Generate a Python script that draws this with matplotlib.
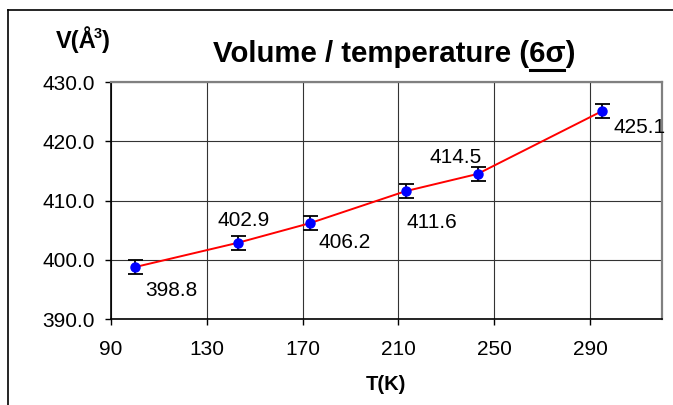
import numpy as np
import matplotlib
matplotlib.use('Agg')
import matplotlib.pyplot as plt
from matplotlib.lines import Line2D

plt.rcParams['font.family'] = ['Liberation Sans', 'DejaVu Sans']

# dados
temperaturas = [100, 143, 173, 213, 243, 295]
volumes = [398.8, 402.9, 406.2, 411.6, 414.5, 425.1]
erros = [1.2, 1.2, 1.2, 1.2, 1.2, 1.2]
rotulos = ['398.8', '402.9', '406.2', '411.6', '414.5', '425.1']
xticks = [90, 130, 170, 210, 250, 290]
yticks = [390.0, 400.0, 410.0, 420.0, 430.0]

# deslocamento dos rotulos (pixels), lado do ponto
offsets = [(10, -23, 'left'), (6, 22, 'center'), (9, -19, 'left'),
           (1, -31, 'left'), (-22, 16, 'center'), (11, -16, 'left')]

fig = plt.figure(figsize=(6.73, 4.05), dpi=100)
ax = fig.add_axes([111 / 673, 1 - 319.3 / 405, (662 - 111) / 673, (319.3 - 82) / 405])

ax.plot(temperaturas, volumes, color='red', lw=1.4, zorder=3)
ax.errorbar(temperaturas, volumes, yerr=erros, fmt='none', ecolor='black',
            elinewidth=1.3, capsize=5.4, capthick=1.3, zorder=4)
ax.plot(temperaturas, volumes, 'o', color='blue', markersize=6.5, zorder=5)

for x, y, txt, (dx, dy, ha) in zip(temperaturas, volumes, rotulos, offsets):
    ax.annotate(txt, (x, y), xytext=(dx * 0.72, dy * 0.72), textcoords='offset points',
                ha=ha, va='center', fontsize=15)

ax.set_xlim(90, 320)
ax.set_ylim(390, 430)
ax.set_xticks(xticks)
ax.set_yticks(yticks)
ax.set_yticklabels(['%.1f' % v for v in yticks])
ax.tick_params(labelsize=15, direction='out', length=4, width=1, color='black')
ax.tick_params(axis='x', pad=11)
ax.tick_params(axis='y', pad=7.5)
ax.grid(True, color='#333333', lw=0.8)
ax.set_axisbelow(True)

for lado in ['top', 'right']:
    ax.spines[lado].set_color('#808080')
    ax.spines[lado].set_linewidth(1.6)
for lado in ['left', 'bottom']:
    ax.spines[lado].set_color('black')
    ax.spines[lado].set_linewidth(1.2)

r = fig.canvas.get_renderer()

def largura(txt, fs):
    t = fig.text(0, 0, txt, fontsize=fs, weight='bold')
    w = t.get_window_extent(r).width
    t.remove()
    return w

# titulo com "6σ" sublinhado
titulo_pre = 'Volume / temperature ('
titulo_sig = '6σ'
titulo_pos = ')'
fs_titulo = 21.2
w_total = largura(titulo_pre + titulo_sig + titulo_pos, fs_titulo)
w_pre = largura(titulo_pre, fs_titulo)
w_sig = largura(titulo_pre + titulo_sig, fs_titulo)
x_ini = 394 - w_total / 2
fig.text(x_ini / 673, 1 - 62 / 405, titulo_pre + titulo_sig + titulo_pos,
         fontsize=fs_titulo, weight='bold')
fig.add_artist(Line2D([(x_ini + w_pre + 1) / 673, (x_ini + w_sig - 1) / 673],
                      [1 - 70 / 405, 1 - 70 / 405], color='black', lw=2.2))

# rotulo do eixo y: V(Å³) com expoente montado a mao
fs_y = 17
w_a = largura('V(Å', fs_y) - 3
w_3 = largura('3', fs_y * 0.62)
w_p = largura(')', fs_y)
x0 = 83 - (w_a + w_3 + w_p) / 2
yb_lab = 1 - 48 / 405
fig.text(x0 / 673, yb_lab, 'V(Å', fontsize=fs_y, weight='bold', va='baseline')
fig.text((x0 + w_a) / 673, yb_lab + 10 / 405, '3', fontsize=fs_y * 0.62, weight='bold', va='baseline')
fig.text((x0 + w_a + w_3) / 673, yb_lab, ')', fontsize=fs_y, weight='bold', va='baseline')

fig.text(386 / 673, 1 - 385 / 405, 'T(K)', fontsize=14.5, weight='bold', ha='center', va='center')

# moldura da area do grafico
yb = 1 - 9.5 / 405
fig.add_artist(Line2D([8 / 673, 1], [yb, yb], color='black', lw=1.2))
fig.add_artist(Line2D([8 / 673, 8 / 673], [0, yb], color='black', lw=1.2))

fig.savefig('out.png', dpi=100)
